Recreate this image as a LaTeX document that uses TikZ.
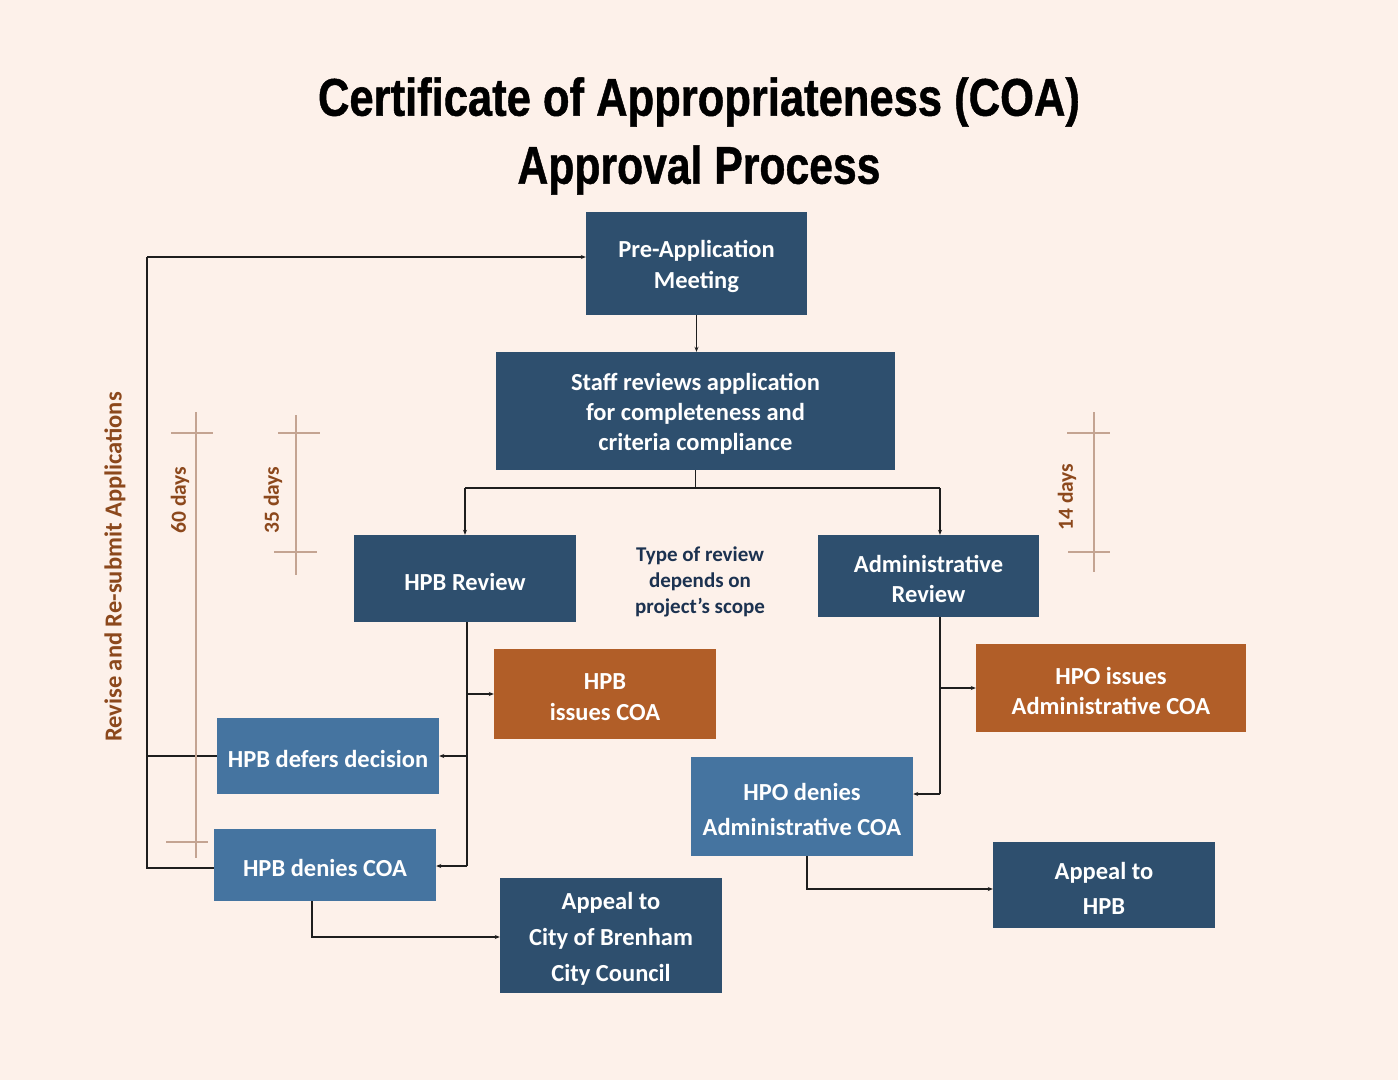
\documentclass[tikz,border=0pt]{standalone}
\usepackage{fontspec}
\usepackage{graphicx}
\setmainfont{Carlito}
\newfontfamily\titlefont[BoldFeatures={FakeBold=1}]{Liberation Sans}
\usetikzlibrary{arrows.meta}
\definecolor{bgc}{RGB}{253,241,234}
\definecolor{darkb}{RGB}{46,79,110}
\definecolor{midb}{RGB}{69,116,160}
\definecolor{orng}{RGB}{177,94,40}
\definecolor{brn}{RGB}{140,72,28}
\definecolor{tan}{RGB}{196,164,146}
\definecolor{navyt}{RGB}{28,50,80}
\definecolor{lnc}{RGB}{30,30,30}
\tikzset{
  box/.style={draw=none, inner sep=0pt},
  darkbox/.style={box, fill=darkb},
  midbox/.style={box, fill=midb},
  orbox/.style={box, fill=orng},
  btext/.style={text=white, font=\bfseries\fontsize{24.5}{#1}\selectfont, align=center, inner sep=0pt},
  btext/.default=31,
  conn/.style={draw=lnc, line width=1.1pt},
  arr/.style={conn, -{Stealth[length=5pt,width=4pt]}},
  tl/.style={draw=tan, line width=1.3pt},
  tlabel/.style={text=brn, font=\bfseries\fontsize{21.5}{22}\selectfont, rotate=90, inner sep=0pt}
}
% \mybox{style}{name}{x}{y}{w}{h}{leading}{text}
\newcommand\mybox[8]{%
  \node[#1, minimum width=#5pt, minimum height=#6pt] (#2) at (#3,#4) {};
  \node[btext=#7] (#2-t) at ([yshift=-3pt]#2.center) {#8};
}
\begin{document}
\begin{tikzpicture}[x=1pt,y=1pt]
\useasboundingbox (0,0) rectangle (1398,-1080);
\fill[bgc] (0,0) rectangle (1398,-1080);

% title
\node[font=\titlefont\bfseries\fontsize{53}{60}\selectfont, inner sep=0pt, text=black] (t1) at (699,-102) {\resizebox{762pt}{\height}{Certificate of Appropriateness (COA)}};
\node[font=\titlefont\bfseries\fontsize{53}{60}\selectfont, inner sep=0pt, text=black] (t2) at (699,-170) {\resizebox{363pt}{\height}{Approval Process}};

% boxes
\mybox{darkbox}{pre}{696.5}{-263.5}{221}{103}{31}{Pre-Application\\Meeting}
\mybox{darkbox}{staff}{695.5}{-411}{399}{118}{30}{Staff reviews application\\for completeness and\\criteria compliance}
\mybox{darkbox}{hpbr}{465}{-578.5}{222}{87}{31}{HPB Review}
\mybox{darkbox}{adm}{928.5}{-576}{221}{82}{30}{Administrative\\Review}
\mybox{orbox}{hiss}{605}{-694}{222}{90}{31}{HPB\\issues COA}
\mybox{orbox}{oiss}{1111}{-688}{270}{88}{30}{HPO issues\\Administrative COA}
\mybox{midbox}{hdef}{328}{-756}{222}{76}{31}{HPB defers decision}
\mybox{midbox}{hden}{325}{-865}{222}{72}{31}{HPB denies COA}
\mybox{midbox}{oden}{802}{-806.5}{222}{99}{35}{HPO denies\\Administrative COA}
\mybox{darkbox}{aphpb}{1104}{-885}{222}{86}{35}{Appeal to\\HPB}
\mybox{darkbox}{apcity}{611}{-935.5}{222}{115}{36}{Appeal to\\City of Brenham\\City Council}

% middle note
\node[text=navyt, font=\bfseries\fontsize{21}{26}\selectfont, align=center, inner sep=0pt] (note) at (700,-582) {Type of review\\depends on\\project’s scope};

% connectors
\draw[arr] (pre.south) -- (pre.south |- staff.north);
\coordinate (sL) at (465,-488);
\coordinate (sR) at (940,-488);
\draw[conn] (staff.south) -- (staff.south |- sL);
\draw[conn] (sL) -- (sR);
\draw[arr] (sL) -- (sL |- hpbr.north);
\draw[arr] (sR) -- (sR |- adm.north);

\coordinate (hx) at (467,-622);
\coordinate (hxb) at (467,-866);
\draw[conn] (hx) -- (hxb);
\draw[arr] (hx |- hiss.west) -- (hiss.west);
\draw[arr] (hx |- hdef.east) -- (hdef.east);
\draw[arr] (hxb) -- (hxb -| hden.east);

\coordinate (ax) at (940,-617);
\coordinate (axb) at (940,-794);
\draw[conn] (ax) -- (axb);
\draw[arr] (ax |- oiss.west) -- (oiss.west);
\draw[arr] (axb) -- (axb -| oden.east);

\draw[arr] ([xshift=5pt]oden.south) |- ([yshift=-4pt]aphpb.west);
\draw[arr] ([xshift=-13pt]hden.south) |- ([yshift=-1.5pt]apcity.west);

\coordinate (rtop) at (147,-257);
\coordinate (rbot) at (147,-868);
\draw[conn] (hden.west |- rbot) -- (rbot) -- (rtop);
\draw[arr] (rtop) -- (rtop -| pre.west);
\draw[conn] (hdef.west) -- (hdef.west -| rtop);

\node[text=brn, font=\bfseries\fontsize{24.5}{26}\selectfont, rotate=90, inner sep=0pt] (rev) at (115,-567) {Revise and Re-submit Applications};

% timelines
\draw[tl] (196,-412) -- (196,-858);
\draw[tl] (171,-433) -- (213,-433);
\draw[tl] (166,-842) -- (208,-842);
\node[tlabel] (d60) at (180,-500) {60 days};

\draw[tl] (296,-415) -- (296,-575);
\draw[tl] (278,-433) -- (320,-433);
\draw[tl] (274,-552) -- (317,-552);
\node[tlabel] (d35) at (273,-500) {35 days};

\draw[tl] (1094,-412) -- (1094,-572);
\draw[tl] (1067,-433) -- (1110,-433);
\draw[tl] (1068,-552) -- (1110,-552);
\node[tlabel] (d14) at (1067,-497) {14 days};
\end{tikzpicture}
\end{document}
